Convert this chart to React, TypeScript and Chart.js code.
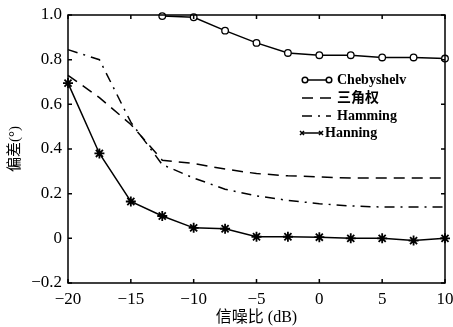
import React, { useEffect, useRef } from "react";
import { Chart, registerables } from "chart.js";

Chart.register(...registerables);

// SNR (dB)
const snrFull = [-20, -17.5, -15, -12.5, -10, -7.5, -5, -2.5, 0, 2.5, 5, 7.5, 10];
const snrCheb = [-12.5, -10, -7.5, -5, -2.5, 0, 2.5, 5, 7.5, 10];

const chebyshevValues = [0.995, 0.99, 0.93, 0.875, 0.83, 0.82, 0.82, 0.81, 0.81, 0.805];
const triangleValues = [0.73, 0.63, 0.51, 0.35, 0.335, 0.31, 0.29, 0.28, 0.275, 0.27, 0.27, 0.27, 0.27];
const hammingValues = [0.845, 0.8, 0.52, 0.33, 0.27, 0.22, 0.19, 0.17, 0.155, 0.145, 0.14, 0.14, 0.14];
const hanningValues = [0.695, 0.38, 0.165, 0.1, 0.047, 0.043, 0.007, 0.007, 0.005, 0.0, 0.0, -0.01, 0.0];

const seriesNames = ["Chebyshelv", "三角权", "Hamming", "Hanning"];
const xTitle = "信噪比 (dB)";
const yTitle = "偏差(°)";

const SERIF = "'Liberation Serif', 'Times New Roman', 'Noto Sans CJK SC', serif";

const toPoints = (xs: number[], ys: number[]) => xs.map((x, i) => ({ x, y: ys[i] }));

const fmt = (v: number, digits: number) => {
  if (Math.abs(v) < 1e-9) return "0";
  return v.toFixed(digits).replace("-", "−");
};

const framePlugin = {
  id: "frameAndLegend",
  afterDraw(chart: any) {
    const { ctx, chartArea } = chart;
    const { left, right, top, bottom } = chartArea;
    const xs = chart.scales.x;
    const ys = chart.scales.y;
    ctx.save();
    ctx.strokeStyle = "#000";
    ctx.lineWidth = 1.5;
    ctx.beginPath();
    ctx.rect(left, top, right - left, bottom - top);
    ctx.stroke();
    const tl = 4;
    ctx.beginPath();
    xs.ticks.forEach((t: any) => {
      const px = xs.getPixelForValue(t.value);
      ctx.moveTo(px, bottom);
      ctx.lineTo(px, bottom - tl);
      ctx.moveTo(px, top);
      ctx.lineTo(px, top + tl);
    });
    ys.ticks.forEach((t: any) => {
      const py = ys.getPixelForValue(t.value);
      ctx.moveTo(left, py);
      ctx.lineTo(left + tl, py);
      ctx.moveTo(right, py);
      ctx.lineTo(right - tl, py);
    });
    ctx.stroke();

    // legend
    const lx0 = 302;
    const lx1 = 331;
    const tx = 337;
    const rows = [80, 98, 116, 133];
    ctx.fillStyle = "#000";
    ctx.textBaseline = "middle";
    ctx.textAlign = "left";
    ctx.font = "bold 14px " + SERIF;
    ctx.lineWidth = 1.5;
    chart.data.datasets.forEach((ds: any, i: number) => {
      const y = rows[i];
      ctx.save();
      ctx.setLineDash(ds.borderDash || []);
      ctx.beginPath();
      ctx.moveTo(lx0, y);
      ctx.lineTo(ds.pointStyle === "star" ? lx1 - 10 : lx1, y);
      ctx.stroke();
      ctx.restore();
      if (ds.pointStyle === "circle") {
        [lx0 + 3, lx1 - 2].forEach((px) => {
          ctx.beginPath();
          ctx.arc(px, y, 2.8, 0, Math.PI * 2);
          ctx.fillStyle = "#fff";
          ctx.fill();
          ctx.stroke();
        });
        ctx.fillStyle = "#000";
      } else if (ds.pointStyle === "star") {
        [lx0, lx1 - 10].forEach((px) => {
          ctx.beginPath();
          ctx.moveTo(px - 2, y - 2);
          ctx.lineTo(px + 2, y + 2);
          ctx.moveTo(px + 2, y - 2);
          ctx.lineTo(px - 2, y + 2);
          ctx.stroke();
        });
      }
      ctx.fillText(ds.label, ds.pointStyle === "star" ? tx - 12 : tx, y);
    });
    ctx.restore();
  },
};

export default function App() {
  const ref = useRef<HTMLCanvasElement>(null);
  useEffect(() => {
    document.body.style.margin = "0";
    const canvas = ref.current!;
    const chart = new Chart(canvas, {
      type: "line",
      data: {
        datasets: [
          {
            label: seriesNames[0],
            data: toPoints(snrCheb, chebyshevValues),
            borderColor: "#000",
            backgroundColor: "#fff",
            borderWidth: 1.5,
            pointStyle: "circle",
            pointRadius: 3.3,
            pointBorderWidth: 1.3,
            pointBackgroundColor: "#fff",
            pointBorderColor: "#000",
            clip: false,
          },
          {
            label: seriesNames[1],
            data: toPoints(snrFull, triangleValues),
            borderColor: "#000",
            borderWidth: 1.5,
            borderDash: [11, 7],
            pointRadius: 0,
            clip: false,
          },
          {
            label: seriesNames[2],
            data: toPoints(snrFull, hammingValues),
            borderColor: "#000",
            borderWidth: 1.5,
            borderDash: [10, 6, 2, 6],
            pointRadius: 0,
            clip: false,
          },
          {
            label: seriesNames[3],
            data: toPoints(snrFull, hanningValues),
            borderColor: "#000",
            borderWidth: 1.5,
            pointStyle: "star",
            pointRadius: 5,
            pointBorderWidth: 1.8,
            pointBorderColor: "#000",
            clip: false,
          },
        ],
      },
      options: {
        animation: false,
        responsive: false,
        maintainAspectRatio: false,
        layout: { padding: { left: 0, right: 8, top: 15, bottom: 0 } },
        plugins: { legend: { display: false }, tooltip: { enabled: false } },
        scales: {
          x: {
            type: "linear",
            min: -20,
            max: 10,
            grid: { display: false, drawTicks: false },
            border: { display: false },
            ticks: {
              stepSize: 5,
              color: "#000",
              padding: 6,
              maxRotation: 0,
              font: { family: SERIF, size: 17 },
              callback: (v: any) => fmt(Number(v), 0),
            },
            title: {
              display: true,
              text: xTitle,
              color: "#000",
              padding: { top: 0, bottom: 0 },
              font: { family: SERIF, size: 16 },
            },
            afterFit: (s: any) => {
              s.height = 44;
              s.paddingLeft = 0;
              s.paddingRight = 0;
            },
          },
          y: {
            min: -0.2,
            max: 1.0,
            grid: { display: false, drawTicks: false },
            border: { display: false },
            ticks: {
              stepSize: 0.2,
              color: "#000",
              padding: 6,
              font: { family: SERIF, size: 17 },
              callback: (v: any) => fmt(Number(v), 1),
            },
            title: {
              display: true,
              text: yTitle,
              color: "#000",
              padding: { top: 6, bottom: 0 },
              font: { family: SERIF, size: 15 },
            },
            afterFit: (s: any) => {
              s.width = 68;
              s.paddingTop = 0;
              s.paddingBottom = 0;
            },
          },
        },
      },
      plugins: [framePlugin],
    });
    return () => chart.destroy();
  }, []);
  return (
    <div style={{ width: 453, height: 327, background: "#fff" }}>
      <canvas ref={ref} width={453} height={327} style={{ display: "block" }} />
    </div>
  );
}
